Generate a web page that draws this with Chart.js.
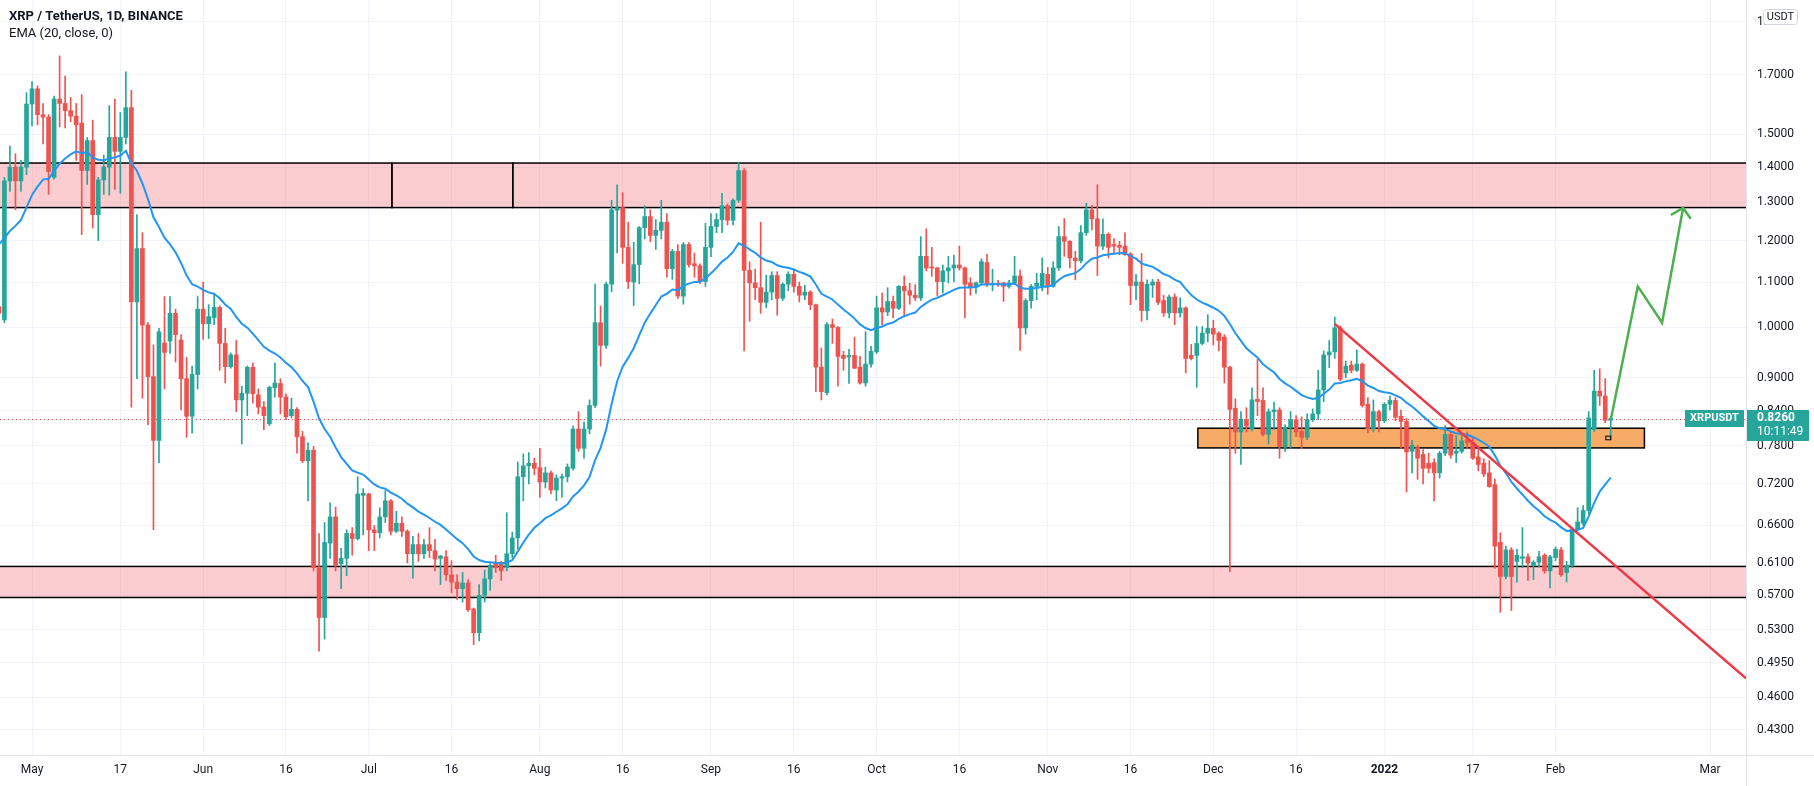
<!DOCTYPE html>
<html><head><meta charset="utf-8">
<script src="https://cdn.jsdelivr.net/npm/chart.js@4.4.0/dist/chart.umd.min.js"></script>
<style>html,body{margin:0;padding:0;background:#fff;overflow:hidden}canvas{display:block}</style>
</head><body>
<canvas id="c" width="1814" height="786" style="width:1814px;height:786px"></canvas>
<script>
// ---- data (day index 0 = 2021-05-01) ----
const firstDay = -6;
const opens = [
1.045,1.016,1.36,1.40,1.36,1.40,1.598,1.65,1.563,1.555,
1.37,1.615,1.60,1.576,1.558,1.535,1.39,1.48,1.267,1.363,
1.40,1.49,1.447,1.49,1.586,1.055,1.18,1.005,0.902,0.789,
0.968,0.972,1.03,0.974,0.898,0.83,0.906,1.039,1.008,1.021,
1.043,0.967,0.921,0.944,0.859,0.871,0.92,0.868,0.846,0.817,
0.881,0.889,0.864,0.831,0.842,0.795,0.756,0.773,0.604,0.544,
0.636,0.672,0.609,0.616,0.649,0.642,0.703,0.705,0.654,0.65,
0.672,0.695,0.652,0.663,0.652,0.622,0.634,0.622,0.634,0.626,
0.616,0.618,0.595,0.586,0.578,0.585,0.554,0.527,0.57,0.59,
0.611,0.611,0.604,0.622,0.643,0.731,0.748,0.752,0.745,0.723,
0.737,0.711,0.729,0.731,0.744,0.808,0.776,0.808,0.849,1.01,
0.963,1.095,1.279,1.286,1.183,1.10,1.141,1.233,1.262,1.213,
1.226,1.247,1.131,1.173,1.068,1.19,1.143,1.138,1.101,1.183,
1.236,1.254,1.291,1.252,1.306,1.39,1.127,1.098,1.087,1.054,
1.077,1.115,1.063,1.095,1.118,1.09,1.07,1.077,1.049,0.92,
0.872,1.006,1.0,0.943,0.94,0.943,0.92,0.89,0.926,0.95,
1.042,1.033,1.056,1.041,1.09,1.08,1.07,1.064,1.161,1.135,
1.133,1.101,1.126,1.133,1.14,1.133,1.098,1.088,1.098,1.146,
1.095,1.097,1.098,1.09,1.098,1.114,0.999,1.058,1.09,1.09,
1.118,1.09,1.133,1.21,1.198,1.157,1.15,1.22,1.28,1.256,
1.186,1.216,1.19,1.188,1.186,1.167,1.092,1.10,1.036,1.093,
1.10,1.058,1.031,1.066,1.031,1.042,0.943,0.943,0.967,0.988,
0.998,0.988,0.98,0.92,0.844,0.803,0.824,0.808,0.86,0.858,
0.799,0.838,0.841,0.778,0.81,0.824,0.804,0.794,0.824,0.834,
0.877,0.944,0.95,0.999,0.909,0.924,0.914,0.926,0.851,0.808,
0.838,0.822,0.851,0.858,0.83,0.821,0.771,0.777,0.766,0.752,
0.753,0.737,0.768,0.799,0.768,0.771,0.79,0.785,0.762,0.752,
0.737,0.719,0.637,0.593,0.627,0.612,0.616,0.618,0.607,0.611,
0.62,0.60,0.617,0.627,0.598,0.607,0.655,0.663,0.681,0.807,
0.875,0.866,0.823];
const highs = [
1.06,1.37,1.463,1.44,1.42,1.637,1.675,1.66,1.60,1.563,
1.625,1.768,1.695,1.62,1.60,1.63,1.49,1.545,1.37,1.436,
1.593,1.615,1.57,1.71,1.645,1.267,1.22,1.01,0.964,0.998,
1.067,1.067,1.039,0.985,0.939,0.922,1.067,1.10,1.049,1.075,
1.046,0.998,0.948,0.973,0.884,0.922,0.928,0.879,0.856,0.884,
0.928,0.898,0.87,0.862,0.845,0.804,0.785,0.779,0.649,0.664,
0.692,0.686,0.629,0.654,0.657,0.731,0.713,0.706,0.66,0.685,
0.71,0.697,0.68,0.672,0.654,0.645,0.649,0.641,0.657,0.641,
0.62,0.626,0.613,0.595,0.598,0.589,0.555,0.583,0.601,0.61,
0.62,0.612,0.678,0.651,0.754,0.767,0.769,0.76,0.776,0.746,
0.74,0.734,0.735,0.751,0.813,0.838,0.82,0.859,1.095,1.046,
1.10,1.306,1.349,1.327,1.247,1.196,1.236,1.291,1.28,1.254,
1.306,1.27,1.178,1.19,1.195,1.195,1.169,1.143,1.244,1.27,
1.27,1.325,1.296,1.31,1.413,1.396,1.148,1.13,1.247,1.116,
1.124,1.124,1.098,1.124,1.13,1.10,1.093,1.08,1.05,0.958,
1.01,1.018,1.002,0.951,0.955,0.98,0.941,0.991,0.961,1.068,
1.075,1.087,1.068,1.092,1.114,1.097,1.094,1.21,1.23,1.183,
1.135,1.14,1.161,1.164,1.186,1.135,1.11,1.10,1.155,1.166,
1.13,1.104,1.10,1.104,1.161,1.128,1.062,1.094,1.12,1.157,
1.134,1.148,1.236,1.257,1.20,1.173,1.238,1.298,1.292,1.349,
1.256,1.22,1.205,1.198,1.22,1.17,1.118,1.168,1.105,1.106,
1.106,1.07,1.07,1.073,1.064,1.044,0.965,1.002,1.002,1.027,
1.015,0.991,0.985,0.922,0.861,0.838,0.845,0.881,0.936,0.881,
0.843,0.855,0.845,0.815,0.838,0.831,0.829,0.834,0.843,0.914,
0.952,0.973,1.022,1.003,0.932,0.932,0.954,0.928,0.863,0.859,
0.841,0.854,0.866,0.863,0.841,0.826,0.789,0.781,0.774,0.768,
0.759,0.771,0.814,0.804,0.797,0.797,0.803,0.795,0.774,0.759,
0.756,0.728,0.65,0.632,0.63,0.628,0.657,0.622,0.613,0.625,
0.622,0.62,0.631,0.63,0.612,0.657,0.685,0.688,0.838,0.914,
0.917,0.898,0.83];
const lows = [
1.02,1.01,1.33,1.28,1.33,1.378,1.526,1.53,1.47,1.322,
1.365,1.523,1.52,1.54,1.42,1.215,1.35,1.232,1.20,1.322,
1.32,1.336,1.325,1.47,0.846,0.898,0.862,0.815,0.654,0.753,
0.879,0.947,0.93,0.841,0.794,0.801,0.879,0.975,0.977,1.006,
0.914,0.89,0.918,0.838,0.783,0.831,0.853,0.834,0.807,0.814,
0.864,0.834,0.824,0.827,0.768,0.753,0.695,0.60,0.507,0.52,
0.616,0.60,0.578,0.594,0.62,0.64,0.647,0.626,0.626,0.643,
0.664,0.647,0.65,0.645,0.61,0.591,0.612,0.616,0.617,0.60,
0.583,0.588,0.573,0.565,0.562,0.551,0.514,0.518,0.562,0.576,
0.598,0.588,0.60,0.617,0.628,0.695,0.72,0.734,0.70,0.714,
0.705,0.695,0.70,0.723,0.741,0.771,0.76,0.80,0.845,0.922,
0.957,1.078,1.169,1.144,1.085,1.047,1.096,1.204,1.197,1.178,
1.204,1.111,1.106,1.063,1.05,1.135,1.111,1.096,1.09,1.16,
1.22,1.22,1.24,1.24,1.30,0.952,1.013,1.06,1.03,1.042,
1.06,1.026,1.058,1.08,1.077,1.055,1.06,1.038,0.874,0.859,
0.868,0.967,0.884,0.914,0.889,0.917,0.888,0.884,0.92,0.947,
1.006,1.025,1.02,1.038,1.023,1.05,1.058,1.058,1.126,1.113,
1.068,1.075,1.098,1.10,1.128,1.02,1.07,1.074,1.095,1.09,
1.08,1.09,1.056,1.086,1.094,0.953,0.986,1.041,1.06,1.08,
1.072,1.088,1.127,1.161,1.133,1.105,1.145,1.213,1.227,1.115,
1.178,1.157,1.17,1.165,1.163,1.049,1.06,1.013,1.016,1.065,
1.049,1.023,1.02,1.006,1.022,0.909,0.934,0.882,0.964,0.97,
0.964,0.952,0.89,0.599,0.768,0.75,0.803,0.805,0.831,0.796,
0.783,0.807,0.76,0.771,0.776,0.795,0.775,0.79,0.821,0.824,
0.856,0.919,0.937,0.894,0.90,0.909,0.912,0.846,0.802,0.803,
0.803,0.819,0.841,0.822,0.776,0.708,0.737,0.727,0.72,0.737,
0.695,0.729,0.764,0.76,0.753,0.768,0.775,0.758,0.74,0.731,
0.715,0.603,0.55,0.59,0.552,0.586,0.604,0.588,0.589,0.605,
0.597,0.579,0.613,0.593,0.586,0.604,0.653,0.66,0.676,0.804,
0.849,0.819,0.79];
const closes = [
1.03,1.36,1.40,1.36,1.40,1.598,1.65,1.563,1.555,1.387,
1.615,1.60,1.576,1.558,1.53,1.39,1.48,1.267,1.363,1.40,
1.49,1.447,1.49,1.586,1.055,1.18,1.005,0.902,0.789,0.991,
0.949,1.03,0.985,0.898,0.83,0.906,1.039,1.008,1.023,1.043,
0.967,0.921,0.944,0.859,0.871,0.92,0.87,0.846,0.831,0.882,
0.89,0.864,0.829,0.842,0.795,0.756,0.773,0.604,0.544,0.637,
0.672,0.607,0.616,0.649,0.642,0.705,0.706,0.654,0.65,0.672,
0.695,0.652,0.663,0.652,0.622,0.634,0.622,0.634,0.626,0.615,
0.619,0.595,0.586,0.578,0.585,0.553,0.527,0.57,0.59,0.607,
0.604,0.60,0.622,0.643,0.731,0.748,0.752,0.744,0.723,0.737,
0.711,0.729,0.731,0.746,0.808,0.776,0.808,0.849,1.01,0.963,
1.095,1.28,1.286,1.183,1.101,1.141,1.233,1.262,1.213,1.226,
1.247,1.131,1.173,1.068,1.19,1.141,1.138,1.101,1.183,1.236,
1.254,1.291,1.252,1.306,1.39,1.127,1.098,1.087,1.054,1.077,
1.115,1.063,1.095,1.118,1.09,1.07,1.077,1.049,0.92,0.874,
1.006,1.0,0.941,0.937,0.943,0.918,0.89,0.926,0.951,1.042,
1.033,1.056,1.041,1.09,1.08,1.07,1.064,1.161,1.133,1.133,
1.101,1.126,1.133,1.14,1.133,1.095,1.088,1.098,1.148,1.095,
1.097,1.095,1.09,1.098,1.114,0.999,1.058,1.09,1.097,1.12,
1.09,1.133,1.21,1.198,1.157,1.15,1.22,1.28,1.256,1.186,
1.216,1.183,1.186,1.183,1.165,1.092,1.10,1.036,1.095,1.10,
1.054,1.031,1.066,1.031,1.042,0.937,0.937,0.967,0.988,0.998,
0.986,0.973,0.92,0.842,0.803,0.825,0.813,0.859,0.856,0.799,
0.838,0.841,0.779,0.81,0.824,0.803,0.794,0.824,0.834,0.877,
0.944,0.95,0.999,0.897,0.922,0.914,0.926,0.849,0.808,0.838,
0.822,0.851,0.858,0.828,0.821,0.77,0.781,0.76,0.744,0.744,
0.737,0.768,0.799,0.765,0.771,0.788,0.785,0.76,0.75,0.735,
0.716,0.632,0.593,0.627,0.593,0.62,0.618,0.61,0.611,0.618,
0.60,0.618,0.628,0.595,0.607,0.655,0.665,0.681,0.827,0.875,
0.866,0.823,0.826];

const emaLength = 20;
const emaSeed = 1.19;           // EMA value at the first visible bar
const lastPrice = 0.826;
const lastPriceLabel = '0.8260';
const countdownLabel = '10:11:49';
const symbolLabel = 'XRPUSDT';

const yTicks = [1.9,1.7,1.5,1.4,1.3,1.2,1.1,1.0,0.9,0.84,0.78,0.72,0.66,0.61,0.57,0.53,0.495,0.46,0.43];
const xTickDays = [0,16,31,46,61,76,92,107,123,138,153,168,184,199,214,229,245,261,276,304];
const xTickLabels = ['May','17','Jun','16','Jul','16','Aug','16','Sep','16','Oct','16','Nov','16','Dec','16','2022','17','Feb','Mar'];

// drawings: [dayStart, dayEnd, priceLow, priceHigh]
const pinkZones = [[-20,65.2,1.286,1.412],[65.2,87.1,1.286,1.412],[87.1,400,1.286,1.412],[-20,400,0.5674,0.6056]];
const orangeZone = [211.2,292.1,0.7766,0.8094];
const markerBox = [285.1,286.0,0.790,0.796];
// lines: [day, price]
const trendLine = [[236.0,1.0074],[310.5,0.4788]];
const arrowPath = [[286.05,0.826],[290.9,1.09],[295.3,1.01],[299.1,1.285]];
const arrowHead = [[296.9,1.266],[299.1,1.285],[300.5,1.256]];

const xMin = -5.8, xMax = 310.5, yMin = 0.4077, yMax = 1.988;

// ---- build ----
const FONT = 'Roboto, "Noto Sans", "DejaVu Sans", sans-serif';
Chart.defaults.font.family = FONT;
const GREEN = '#26a69a', RED = '#ef5350', TXT = '#131722';
const days = opens.map((_, i) => firstDay + i);
const colors = closes.map((c, i) => c >= opens[i] ? GREEN : RED);
const alpha = 2 / (emaLength + 1);
const ema = [];
closes.forEach((c, i) => ema.push(i === 0 ? emaSeed : ema[i-1] + alpha * (c - ema[i-1])));
const pts = arr => arr.map(([x, y]) => ({x, y}));

const overlay = {
  id: 'overlay',
  beforeDatasetsDraw(chart) {
    const {ctx, chartArea: a, scales: {x, y}} = chart;
    ctx.save();
    ctx.beginPath(); ctx.rect(a.left, a.top, a.right - a.left, a.bottom - a.top); ctx.clip();
    const rect = ([d0, d1, lo, hi], fill) => {
      const x0 = x.getPixelForValue(d0), x1 = x.getPixelForValue(d1);
      const y0 = y.getPixelForValue(hi), y1 = y.getPixelForValue(lo);
      ctx.fillStyle = fill; ctx.fillRect(x0, y0, x1 - x0, y1 - y0);
      ctx.strokeStyle = '#000'; ctx.lineWidth = 1.5; ctx.strokeRect(x0, y0, x1 - x0, y1 - y0);
    };
    pinkZones.forEach(z => rect(z, 'rgba(242,54,69,0.25)'));
    rect(orangeZone, '#f6ab66');
    const py = Math.round(y.getPixelForValue(lastPrice)) + 0.5;
    ctx.setLineDash([1, 3]); ctx.strokeStyle = RED; ctx.lineWidth = 1;
    ctx.beginPath(); ctx.moveTo(a.left, py); ctx.lineTo(a.right, py); ctx.stroke();
    ctx.restore();
  },
  afterDraw(chart) {
    const {ctx, chartArea: a, scales: {x, y}, width, height} = chart;
    ctx.save();
    // marker
    {
      const [d0, d1, lo, hi] = markerBox;
      const x0 = x.getPixelForValue(d0), x1 = x.getPixelForValue(d1);
      const y0 = y.getPixelForValue(hi), y1 = y.getPixelForValue(lo);
      ctx.strokeStyle = '#000'; ctx.lineWidth = 1; ctx.strokeRect(x0, y0, x1 - x0, y1 - y0);
    }
    // separators
    ctx.strokeStyle = '#e0e3eb'; ctx.lineWidth = 1;
    ctx.beginPath(); ctx.moveTo(a.right + 0.5, 0); ctx.lineTo(a.right + 0.5, height); ctx.stroke();
    ctx.beginPath(); ctx.moveTo(0, a.bottom + 0.5); ctx.lineTo(width, a.bottom + 0.5); ctx.stroke();
    // price labels
    const py = y.getPixelForValue(lastPrice);
    ctx.fillStyle = GREEN;
    ctx.fillRect(a.right - 61, Math.round(py) - 9, 59, 17);
    ctx.fillRect(a.right + 1, Math.round(py) - 9, 62, 31);
    ctx.fillStyle = '#fff'; ctx.textBaseline = 'middle';
    ctx.textAlign = 'center'; ctx.font = 'bold 11px ' + FONT;
    ctx.fillText(symbolLabel, a.right - 31.5, Math.round(py) - 0.5);
    ctx.textAlign = 'left'; ctx.font = 'bold 12px ' + FONT;
    ctx.fillText(lastPriceLabel, a.right + 11, Math.round(py) - 1);
    ctx.font = '12px ' + FONT;
    ctx.fillText(countdownLabel, a.right + 11, Math.round(py) + 13);
    // USDT box
    ctx.fillStyle = '#fff'; ctx.strokeStyle = '#d1d4dc';
    ctx.beginPath(); ctx.roundRect(a.right + 17.5, 9.5, 34, 15, 3); ctx.fill(); ctx.stroke();
    ctx.fillStyle = TXT; ctx.textAlign = 'center'; ctx.font = '11px ' + FONT;
    ctx.fillText('USDT', a.right + 34.5, 17.5);
    // legend
    ctx.textAlign = 'left'; ctx.fillStyle = TXT;
    ctx.font = 'bold 13px ' + FONT; ctx.fillText('XRP / TetherUS, 1D, BINANCE', 9, 17);
    ctx.font = '13px ' + FONT; ctx.fillText('EMA (20, close, 0)', 9, 34);
    ctx.restore();
  }
};

new Chart(document.getElementById('c'), {
  type: 'bar',
  data: {
    datasets: [
      {type: 'line', data: pts(trendLine), borderColor: '#f23645', borderWidth: 2.5, pointRadius: 0, order: 0},
      {type: 'line', data: pts(arrowPath), borderColor: '#4caf50', borderWidth: 2.5, pointRadius: 0, order: 0},
      {type: 'line', data: pts(arrowHead), borderColor: '#4caf50', borderWidth: 2.5, pointRadius: 0, order: 0},
      {type: 'line', data: days.map((d, i) => ({x: d, y: ema[i]})), borderColor: '#2196f3', borderWidth: 2, pointRadius: 0, order: 1},
      {type: 'bar', data: days.map((d, i) => ({x: d, y: [Math.min(opens[i], closes[i]), Math.max(opens[i], closes[i])]})),
        backgroundColor: colors, barThickness: 4, minBarLength: 1, grouped: false, order: 2},
      {type: 'bar', data: days.map((d, i) => ({x: d, y: [lows[i], highs[i]]})),
        backgroundColor: colors, barThickness: 1, grouped: false, order: 3}
    ]
  },
  options: {
    responsive: false, animation: false, devicePixelRatio: 1, events: [],
    layout: {padding: 0},
    plugins: {legend: {display: false}, tooltip: {enabled: false}},
    scales: {
      x: {
        type: 'linear', min: xMin, max: xMax, offset: false,
        grid: {color: '#f0f3fa', drawTicks: false, offset: false}, border: {display: false},
        afterBuildTicks: s => { s.ticks = xTickDays.map(v => ({value: v})); },
        afterFit: s => { s.height = 31; s.paddingLeft = 0; s.paddingRight = 0; },
        ticks: {
          autoSkip: false, maxRotation: 0, padding: 8, color: TXT,
          font: c => ({family: FONT, size: 12, weight: xTickLabels[c.index] === '2022' ? 'bold' : 'normal'}),
          callback: (v, i) => xTickLabels[i]
        }
      },
      y: {
        type: 'logarithmic', position: 'right', min: yMin, max: yMax,
        grid: {color: '#f0f3fa', drawTicks: false}, border: {display: false},
        afterBuildTicks: s => { s.ticks = yTicks.map(v => ({value: v})); },
        afterFit: s => { s.width = 68; s.paddingTop = 0; s.paddingBottom = 0; },
        ticks: {autoSkip: false, padding: 11, color: TXT, font: {size: 12}, callback: v => Number(v).toFixed(4)}
      }
    }
  },
  plugins: [overlay]
});
</script>
</body></html>
